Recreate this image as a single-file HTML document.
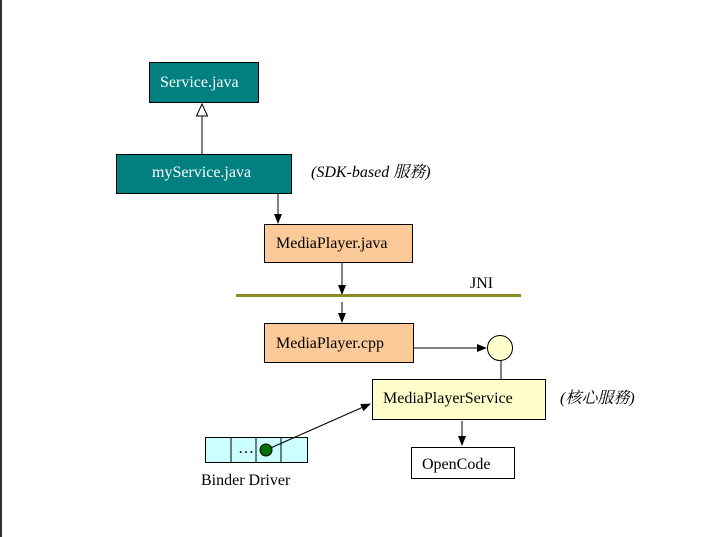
<!DOCTYPE html>
<html><head><meta charset="utf-8"><style>
html,body{margin:0;padding:0;background:#fff;}
svg{display:block;}
text{font-family:"Liberation Serif","Noto Serif CJK SC","Noto Sans CJK TC",serif;font-size:16px;}
</style></head><body>
<svg width="721" height="537" viewBox="0 0 721 537" xmlns="http://www.w3.org/2000/svg">
<defs>
<marker id="a" markerWidth="10" markerHeight="8" refX="9" refY="4" orient="auto" markerUnits="userSpaceOnUse">
<path d="M0,0 L10,4 L0,8 Z" fill="#000"/></marker>
</defs>
<rect x="0" y="0" width="2" height="537" fill="#333"/>
<rect x="149.5" y="62.5" width="109" height="40" fill="#008080" stroke="#000"/>
<text x="160" y="87" fill="#fff">Service.java</text>
<line x1="202" y1="154" x2="202" y2="116" stroke="#000"/>
<path d="M196.5,116 L207.5,116 L202,104 Z" fill="#fff" stroke="#000"/>
<rect x="116.5" y="154.5" width="175" height="39" fill="#008080" stroke="#000"/>
<text x="152" y="177" fill="#fff">myService.java</text>
<text x="311" y="177" font-style="italic">(SDK-based 服務)</text>
<line x1="278" y1="194" x2="278" y2="223" stroke="#000" marker-end="url(#a)"/>
<rect x="264.5" y="224.5" width="148" height="38" fill="#fcc998" stroke="#000"/>
<text x="276" y="248">MediaPlayer.java</text>
<line x1="342" y1="263" x2="342" y2="294" stroke="#000" marker-end="url(#a)"/>
<line x1="236" y1="295.5" x2="521" y2="295.5" stroke="#8b8b1e" stroke-width="3"/>
<text x="470" y="288">JNI</text>
<line x1="342" y1="302" x2="342" y2="322" stroke="#000" marker-end="url(#a)"/>
<rect x="264.5" y="323.5" width="149" height="39" fill="#fcc998" stroke="#000"/>
<text x="276" y="348">MediaPlayer.cpp</text>
<line x1="414" y1="348" x2="486" y2="348" stroke="#000" marker-end="url(#a)"/>
<circle cx="500" cy="348" r="12.5" fill="#ffffcc" stroke="#000"/>
<line x1="501" y1="361" x2="501" y2="379" stroke="#000"/>
<rect x="372.5" y="379.5" width="173" height="40" fill="#ffffcc" stroke="#000"/>
<text x="383" y="403">MediaPlayerService</text>
<text x="560" y="403" font-style="italic">(核心服務)</text>
<line x1="462" y1="421" x2="462" y2="445" stroke="#000" marker-end="url(#a)"/>
<rect x="411.5" y="447.5" width="103" height="31" fill="#fff" stroke="#000"/>
<text x="422" y="469">OpenCode</text>
<rect x="205.5" y="437.5" width="102" height="25" fill="#ccffff" stroke="#000"/>
<line x1="231" y1="437" x2="231" y2="463" stroke="#000"/>
<line x1="256" y1="437" x2="256" y2="463" stroke="#000"/>
<line x1="281" y1="437" x2="281" y2="463" stroke="#000"/>
<text x="238" y="453" font-size="11">…</text>
<line x1="266" y1="450" x2="370" y2="404" stroke="#000" marker-end="url(#a)"/>
<circle cx="266" cy="450" r="6" fill="#007000" stroke="#000"/>
<text x="201" y="485">Binder Driver</text>
</svg>
</body></html>
